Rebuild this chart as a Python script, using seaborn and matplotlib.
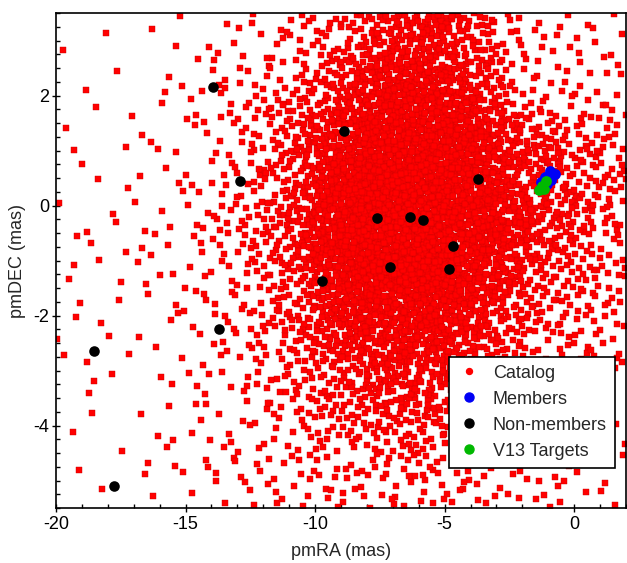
import numpy as np
import pandas as pd
import matplotlib
matplotlib.use("Agg")
import matplotlib.pyplot as plt
from matplotlib.lines import Line2D
from matplotlib.ticker import MultipleLocator
import seaborn as sns

# ---------------------------------------------------------------
# Field-star catalog: number of stars per 1 mas x 1 mas cell of
# proper-motion space.  Rows run from pmDEC 3.5 (top) down to -5.5,
# columns from pmRA -20 to +2.
# ---------------------------------------------------------------
cat_ra_edges = np.arange(-20, 3, 1)
cat_dec_edges = np.arange(3.5, -6.5, -1)
catalog_counts = [
    [1, 1, 1, 1, 2, 2, 4, 5, 7, 10, 15, 26, 40, 48, 50, 43, 23, 12, 8, 6, 5, 5],
    [1, 1, 1, 2, 3, 4, 7, 10, 14, 21, 35, 56, 70, 77, 75, 63, 43, 20, 11, 8, 7, 6],
    [2, 1, 2, 2, 3, 5, 8, 13, 20, 33, 60, 90, 106, 112, 110, 100, 77, 50, 37, 29, 22, 16],
    [2, 2, 2, 3, 4, 6, 10, 15, 24, 42, 77, 108, 122, 125, 122, 111, 88, 60, 45, 35, 25, 18],
    [3, 2, 2, 3, 4, 6, 9, 14, 22, 39, 72, 102, 115, 120, 115, 103, 78, 52, 35, 26, 18, 14],
    [2, 2, 2, 3, 4, 5, 8, 11, 17, 28, 48, 69, 82, 89, 84, 68, 48, 31, 20, 15, 12, 10],
    [1, 2, 2, 2, 3, 4, 6, 8, 12, 17, 26, 34, 43, 48, 45, 36, 24, 16, 11, 9, 7, 6],
    [2, 1, 1, 2, 3, 4, 6, 7, 9, 12, 16, 20, 23, 25, 23, 20, 14, 11, 8, 6, 5, 5],
    [1, 1, 1, 2, 2, 3, 4, 5, 6, 7, 9, 10, 10, 10, 10, 9, 8, 7, 7, 6, 4, 3],
]

# Spectroscopic samples
member_pmra = [-0.75, -0.95, -1.12, -1.27, -0.88, -1.05]
member_pmdec = [0.58, 0.62, 0.52, 0.42, 0.47, 0.40]

nonmember_pmra = [-13.94, -8.88, -12.90, -3.71, -7.61, -6.33, -5.83,
                  -4.67, -7.10, -4.83, -9.73, -13.71, -18.53, -17.76]
nonmember_pmdec = [2.15, 1.35, 0.45, 0.48, -0.23, -0.21, -0.26,
                   -0.74, -1.12, -1.15, -1.37, -2.25, -2.65, -5.10]

v13_pmra = [-1.10, -1.24, -1.36, -1.18]
v13_pmdec = [0.44, 0.35, 0.29, 0.30]

legend_labels = ["Catalog", "Members", "Non-members", "V13 Targets"]


def halton(n, base):
    """Radical-inverse (Halton) sequence, used to spread stars inside cells."""
    idx = np.arange(1, n + 1)
    f = 1.0
    out = np.zeros(n)
    while idx.any():
        f /= base
        out += f * (idx % base)
        idx //= base
    return out


def catalog_positions(counts, ra_edges, dec_edges):
    """Place catalog stars following the per-cell counts (smoothly interpolated)."""
    counts = np.asarray(counts, float)
    nrow, ncol = counts.shape
    ra0, ra1 = ra_edges[0], ra_edges[-1]
    dec0, dec1 = dec_edges[-1], dec_edges[0]
    dmax = counts.max()
    n_cand = int(round(nrow * ncol * dmax))
    u = halton(n_cand, 2)
    v = halton(n_cand, 3)
    w = halton(n_cand, 5)
    ra = ra0 + u * (ra1 - ra0)
    dec = dec0 + v * (dec1 - dec0)
    # bilinear interpolation between cell centres
    fx = np.clip(ra - (ra0 + 0.5), 0, ncol - 1)
    fy = np.clip((dec1 - 0.5) - dec, 0, nrow - 1)
    ix = np.minimum(fx.astype(int), ncol - 2)
    iy = np.minimum(fy.astype(int), nrow - 2)
    tx = fx - ix
    ty = fy - iy
    d = (counts[iy, ix] * (1 - tx) * (1 - ty) + counts[iy, ix + 1] * tx * (1 - ty)
         + counts[iy + 1, ix] * (1 - tx) * ty + counts[iy + 1, ix + 1] * tx * ty)
    keep = w < d / dmax
    return ra[keep], dec[keep]


cat_ra, cat_dec = catalog_positions(catalog_counts, cat_ra_edges, cat_dec_edges)
catalog = pd.DataFrame({"pmRA": cat_ra, "pmDEC": cat_dec})
members = pd.DataFrame({"pmRA": member_pmra, "pmDEC": member_pmdec})
nonmembers = pd.DataFrame({"pmRA": nonmember_pmra, "pmDEC": nonmember_pmdec})
v13 = pd.DataFrame({"pmRA": v13_pmra, "pmDEC": v13_pmdec})

sns.set_style("ticks")
plt.rcParams["font.family"] = ["Liberation Sans", "DejaVu Sans"]
plt.rcParams["axes.unicode_minus"] = False

RED = "#ff0000"
BLUE = "#0000f5"
GREEN = "#00b800"

fig = plt.figure(figsize=(6.27, 5.63), dpi=100)
ax = fig.add_axes([56 / 627, 55 / 563, 570 / 627, 495 / 563])

sns.scatterplot(data=catalog, x="pmRA", y="pmDEC", marker="s", s=14,
                color=RED, edgecolor="#cc0000", linewidth=0.3, ax=ax,
                legend=False, zorder=2)
sns.scatterplot(data=nonmembers, x="pmRA", y="pmDEC", marker="o", s=58,
                color="black", linewidth=0, ax=ax, legend=False, zorder=3)
sns.scatterplot(data=members, x="pmRA", y="pmDEC", marker="o", s=60,
                color=BLUE, linewidth=0, ax=ax, legend=False, zorder=4)
sns.scatterplot(data=v13, x="pmRA", y="pmDEC", marker="o", s=60,
                color=GREEN, linewidth=0, ax=ax, legend=False, zorder=5)

ax.set_xlim(-20, 2)
ax.set_ylim(-5.5, 3.5)
ax.xaxis.set_major_locator(MultipleLocator(5))
ax.xaxis.set_minor_locator(MultipleLocator(1))
ax.yaxis.set_major_locator(MultipleLocator(2))
ax.yaxis.set_minor_locator(MultipleLocator(0.25))
ax.tick_params(which="major", direction="inout", length=5.8, width=1.0,
               color="black", labelsize=13, labelcolor="black")
ax.tick_params(axis="x", which="major", pad=3)
ax.tick_params(axis="y", which="major", pad=2)
ax.tick_params(which="minor", direction="in", length=3.2, width=1.0, color="black")
ax.tick_params(top=False, right=False, which="both")
for sp in ax.spines.values():
    sp.set_color("black")
    sp.set_linewidth(1.2)

ax.set_xlabel("pmRA (mas)", fontsize=13, labelpad=7)
ax.set_ylabel("pmDEC (mas)", fontsize=13, labelpad=5)

handles = [
    Line2D([], [], linestyle="none", marker="o", markersize=4.3, color=RED),
    Line2D([], [], linestyle="none", marker="o", markersize=6.5, color=BLUE),
    Line2D([], [], linestyle="none", marker="o", markersize=6.5, color="black"),
    Line2D([], [], linestyle="none", marker="o", markersize=6.5, color=GREEN),
]
leg = ax.legend(handles, legend_labels, loc="upper left",
                bbox_to_anchor=(0.689, 0.306), borderaxespad=0,
                fontsize=13, frameon=True, fancybox=False,
                handlelength=1.3, handletextpad=0.7, labelspacing=0.5,
                borderpad=0.45)
leg.get_frame().set_edgecolor("black")
leg.get_frame().set_linewidth(1.2)
leg.get_frame().set_facecolor("white")
leg.get_frame().set_alpha(1.0)
leg.set_zorder(10)

fig.savefig("out.png", dpi=100)
